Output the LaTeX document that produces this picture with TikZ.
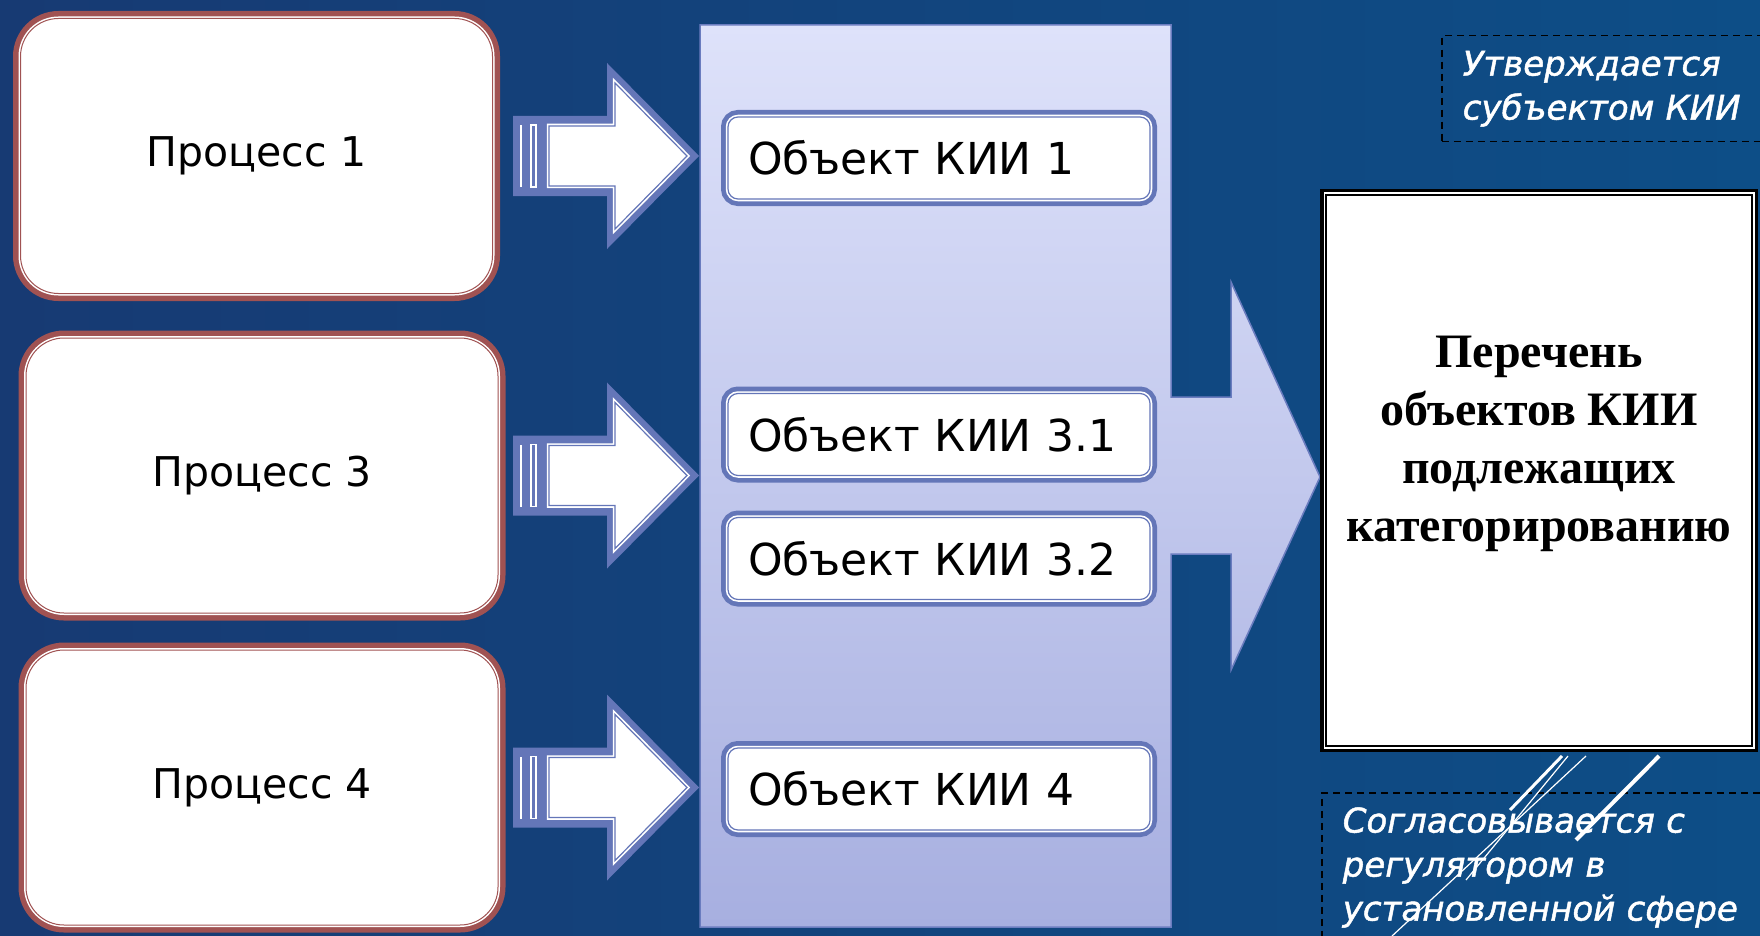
\documentclass[tikz,border=0pt]{standalone}
\usepackage{fontspec}
\setmainfont{DejaVu Sans}
\newfontfamily\listfont{Liberation Serif}
\newfontfamily\notefont[FakeBold=1.4]{DejaVu Sans}
\usetikzlibrary{positioning,calc}

\definecolor{bgleft}{HTML}{173A73}
\definecolor{bgright}{HTML}{0D4E87}
\definecolor{procred}{HTML}{A05252}
\definecolor{kiiblue}{HTML}{6476B8}
\definecolor{paneltop}{HTML}{DEE2FA}
\definecolor{panelbot}{HTML}{A7AFE0}
\definecolor{panelline}{HTML}{6A7CBF}

\tikzset{every picture/.style={line width=1pt},
  procbox/.style={rectangle, rounded corners=38pt, minimum width=472pt, minimum height=275pt,
    fill=white, draw=procred, line width=1pt,
    preaction={draw=procred, line width=15pt}, preaction={draw=white, line width=4pt},
    font=\fontsize{41}{49}\selectfont},
  objbox/.style={rectangle, rounded corners=10pt, minimum width=422pt, minimum height=82pt,
    text width=382pt, align=left, inner xsep=20pt,
    fill=white, draw=kiiblue, line width=1.2pt,
    preaction={draw=kiiblue, line width=14pt}, preaction={draw=white, line width=4.5pt},
    font=\fontsize{44}{52}\selectfont},
  listbox/.style={rectangle, minimum width=426pt, minimum height=551pt,
    fill=white, draw=black, line width=1.5pt,
    preaction={draw=black, line width=12pt}, preaction={draw=white, line width=5pt}},
  listtxt/.style={align=center, font=\listfont\bfseries\fontsize{48}{58}\selectfont},
  notebox/.style={anchor=north west, draw=black, line width=1.5pt, dash pattern=on 7pt off 5pt,
    text=white, align=left, inner xsep=21pt, inner ysep=9pt,
    font=\notefont\fontsize{34}{44}\selectfont\itshape},
  pics/kiiarrow/.style={code={
    \fill[kiiblue] (-186,-40) -- (-92,-40) -- (-92,-93) -- (0,0) -- (-92,93) -- (-92,40) -- (-186,40) -- cycle;
    \filldraw[fill=white, draw=kiiblue, line width=1.2pt, preaction={draw=white, line width=4.5pt}]
      (-150,-30) -- (-84,-30) -- (-84,-73) -- (-12,0) -- (-84,73) -- (-84,30) -- (-150,30) -- cycle;
    \draw[white, line width=1.5pt] (-178,-31) -- (-178,31);
    \draw[white, line width=1.5pt] (-168,-31) rectangle (-163,31);
  }}
}

\begin{document}
\begin{tikzpicture}[x=1pt,y=1pt,yscale=-1,xscale=1]
    \useasboundingbox (0,0) rectangle (1760,936);
    % Background
    \shade[left color=bgleft, right color=bgright] (0,0) rectangle (1760,936);
    % Panel with the big arrow
    \path[draw=panelline, line width=1.5pt, top color=paneltop, bottom color=panelbot]
      (700,25) -- (1171,25) -- (1171,397) -- (1231,397) -- (1231,282) -- (1320,477)
      -- (1231,670) -- (1231,554) -- (1171,554) -- (1171,927) -- (700,927) -- cycle;
    \coordinate (pw) at (699,0);

    % Processes
    \node[procbox] (p1) at (256.5,156) {Процесс 1};
    \node[procbox] (p3) at (262,475.5) {Процесс 3};
    \node[procbox] (p4) at (262,787.5) {Процесс 4};

    % Objects
    \node[objbox] (o1) at (939,158) {Объект КИИ 1};
    \node[objbox] (o31) at (939,434.5) {Объект КИИ 3.1};
    \node[objbox] (o32) at (939,558.5) {Объект КИИ 3.2};
    \node[objbox] (o4) at (939,789) {Объект КИИ 4};

    % Arrows
    \pic at (pw |- p1.east) {kiiarrow};
    \pic at (pw |- p3.east) {kiiarrow};
    \pic at (pw |- p4.east) {kiiarrow};

    % List
    \node[listbox] (list) at (1539,470.5) {};
    \node[listtxt] (title) at ($(list.center)+(0,-27)$) {Перечень\\объектов КИИ\\подлежащих\\категорированию};

    % Notes
    \node[notebox, text width=300pt] (n1) at (1441,35) {\strut Утверждается\\субъектом КИИ\strut};
    \node[notebox, text width=420pt] (n2) at (1321,792) {\strut Согласовывается с\\регулятором в\\установленной сфере\strut};

    % White strokes
    \draw[white, line width=3pt] (1562,756) -- (1510,810);
    \draw[white, line width=1.2pt] (1568,756) -- (1466,880);
    \draw[white, line width=1.2pt] (1586,756) -- (1392,936);
    \draw[white, line width=4pt] (1659,756) -- (1576,840);
\end{tikzpicture}
\end{document}
